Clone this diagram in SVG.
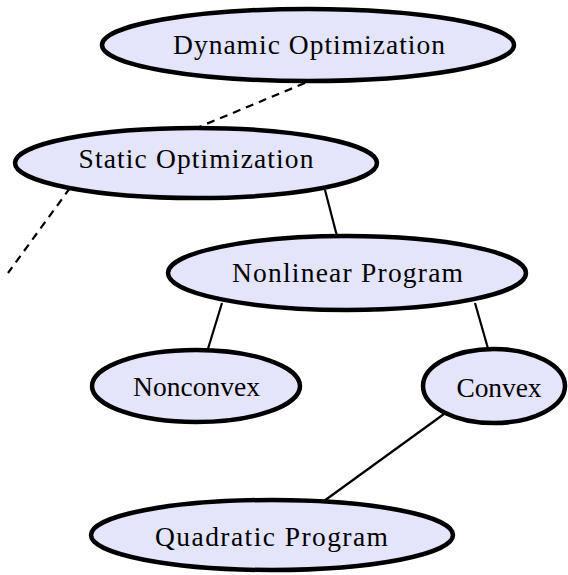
<svg xmlns="http://www.w3.org/2000/svg" width="568" height="575" viewBox="0 0 568 575">
  <style>
    .node ellipse { fill: #e4e4fa; stroke: #000; stroke-width: 4.5; }
    .node text { font-family: "Liberation Serif", "Times New Roman", serif; font-size: 27.5px; fill: #000; text-anchor: middle; }
    .edge { stroke: #000; stroke-width: 2.2; fill: none; }
    .dashed { stroke-dasharray: 8 6; }
  </style>
  <rect width="568" height="575" fill="#fff"/>

  <!-- connectors, drawn under the nodes -->
  <g id="connectors">
    <line class="edge dashed" x1="305" y1="83" x2="199" y2="127"/>
    <line class="edge dashed" x1="70" y1="188" x2="8" y2="273"/>
    <line class="edge" x1="325" y1="190" x2="338" y2="240"/>
    <line class="edge" x1="222" y1="303" x2="207" y2="352"/>
    <line class="edge" x1="475" y1="303" x2="489" y2="352"/>
    <line class="edge" x1="444" y1="414" x2="324" y2="501"/>
  </g>

  <g id="dynamic-optimization" class="node">
    <ellipse cx="308" cy="45" rx="206" ry="36"/>
    <text x="309" y="54" textLength="272" lengthAdjust="spacing">Dynamic Optimization</text>
  </g>

  <g id="static-optimization" class="node">
    <ellipse cx="196" cy="163" rx="181" ry="35"/>
    <text x="196" y="168" textLength="235" lengthAdjust="spacing">Static Optimization</text>
  </g>

  <g id="nonlinear-program" class="node">
    <ellipse cx="347" cy="273" rx="179" ry="37"/>
    <text x="347.5" y="282" textLength="231" lengthAdjust="spacing">Nonlinear Program</text>
  </g>

  <g id="nonconvex" class="node">
    <ellipse cx="196" cy="386" rx="104" ry="36"/>
    <text x="196.5" y="396" textLength="127" lengthAdjust="spacing">Nonconvex</text>
  </g>

  <g id="convex" class="node">
    <ellipse cx="494" cy="386" rx="71" ry="37"/>
    <text x="499" y="397" textLength="85" lengthAdjust="spacing">Convex</text>
  </g>

  <g id="quadratic-program" class="node">
    <ellipse cx="272" cy="535" rx="181" ry="35"/>
    <text x="271.5" y="546" textLength="233" lengthAdjust="spacing">Quadratic Program</text>
  </g>
</svg>
